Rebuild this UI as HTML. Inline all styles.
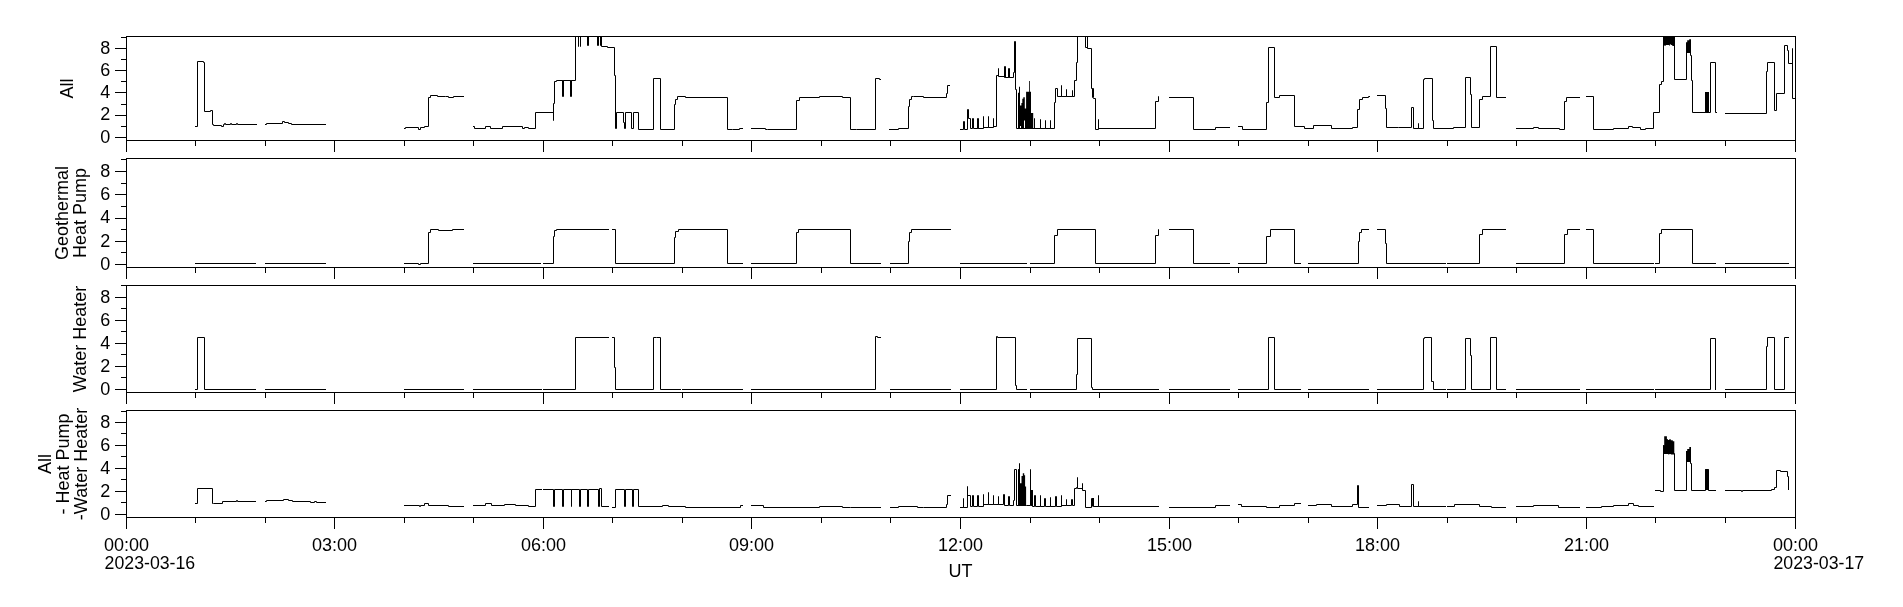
<!DOCTYPE html>
<html><head><meta charset="utf-8"><style>
html,body{margin:0;padding:0;background:#fff;width:1903px;height:607px;overflow:hidden}
svg{display:block;will-change:transform}
text{font-family:"Liberation Sans", sans-serif;font-size:18px;fill:#000}
</style></head><body>
<svg width="1903" height="607" viewBox="0 0 1903 607">
<rect width="1903" height="607" fill="#fff"/>
<path d="M126 36.5H1795.5V140.5H126.5V36M115 137.5H126.5M121 126.5H126.5M115 115.5H126.5M121 104.5H126.5M115 92.5H126.5M121 81.5H126.5M115 70.5H126.5M121 59.5H126.5M115 48.5H126.5M121 37.5H126.5M126.5 141V152M195.5 141V146M265.5 141V146M334.5 141V152M404.5 141V146M473.5 141V146M543.5 141V152M612.5 141V146M682.5 141V146M751.5 141V152M821.5 141V146M890.5 141V146M960.5 141V152M1030.5 141V146M1099.5 141V146M1169.5 141V152M1238.5 141V146M1308.5 141V146M1377.5 141V152M1447.5 141V146M1516.5 141V146M1586.5 141V152M1655.5 141V146M1725.5 141V146M1795.5 141V152M126 158.5H1795.5V267.5H126.5V158M115 264.5H126.5M121 252.5H126.5M115 241.5H126.5M121 229.5H126.5M115 218.5H126.5M121 206.5H126.5M115 194.5H126.5M121 183.5H126.5M115 171.5H126.5M121 159.5H126.5M126.5 268V279M195.5 268V273M265.5 268V273M334.5 268V279M404.5 268V273M473.5 268V273M543.5 268V279M612.5 268V273M682.5 268V273M751.5 268V279M821.5 268V273M890.5 268V273M960.5 268V279M1030.5 268V273M1099.5 268V273M1169.5 268V279M1238.5 268V273M1308.5 268V273M1377.5 268V279M1447.5 268V273M1516.5 268V273M1586.5 268V279M1655.5 268V273M1725.5 268V273M1795.5 268V279M126 285.5H1795.5V392.5H126.5V285M115 389.5H126.5M121 377.5H126.5M115 366.5H126.5M121 354.5H126.5M115 343.5H126.5M121 331.5H126.5M115 320.5H126.5M121 308.5H126.5M115 297.5H126.5M121 285.5H126.5M126.5 393V404M195.5 393V398M265.5 393V398M334.5 393V404M404.5 393V398M473.5 393V398M543.5 393V404M612.5 393V398M682.5 393V398M751.5 393V404M821.5 393V398M890.5 393V398M960.5 393V404M1030.5 393V398M1099.5 393V398M1169.5 393V404M1238.5 393V398M1308.5 393V398M1377.5 393V404M1447.5 393V398M1516.5 393V398M1586.5 393V404M1655.5 393V398M1725.5 393V398M1795.5 393V404M126 410.5H1795.5V517.5H126.5V410M115 514.5H126.5M121 502.5H126.5M115 491.5H126.5M121 479.5H126.5M115 468.5H126.5M121 456.5H126.5M115 445.5H126.5M121 433.5H126.5M115 422.5H126.5M121 411.5H126.5M126.5 518V529M195.5 518V523M265.5 518V523M334.5 518V529M404.5 518V523M473.5 518V523M543.5 518V529M612.5 518V523M682.5 518V523M751.5 518V529M821.5 518V523M890.5 518V523M960.5 518V529M1030.5 518V523M1099.5 518V523M1169.5 518V529M1238.5 518V523M1308.5 518V523M1377.5 518V529M1447.5 518V523M1516.5 518V523M1586.5 518V529M1655.5 518V523M1725.5 518V523M1795.5 518V529" fill="none" stroke="#000" stroke-width="1" shape-rendering="crispEdges"/>
<defs><clipPath id="c0"><rect x="127" y="37" width="1668" height="103"/></clipPath><clipPath id="c1"><rect x="127" y="159" width="1668" height="108"/></clipPath><clipPath id="c2"><rect x="127" y="286" width="1668" height="106"/></clipPath><clipPath id="c3"><rect x="127" y="411" width="1668" height="106"/></clipPath></defs>
<g clip-path="url(#c0)"><path d="M195.5 126.5H197.5V61.5H203.5V62.5H204.5V111.5H210.5V110.5H212.5V124.5H213.5V125.5H221.5V126.5H223.5V124.5H224.5V123.5H225.5V124.5H230.5V123.5H231.5V124.5H236.5V123.5H237.5V124.5H256.5M265.5 124.5H266.5V123.5H282.5V121.5H284.5V122.5H288.5V123.5H291.5V124.5H325.5M404.5 128.5H405.5V127.5H418.5V129.5H420.5V127.5H424.5V126.5H428.5V97.5H430.5V95.5H437.5V96.5H445.5V96.5H448.5V97.5H453.5V96.5H463.5M473.5 126.5H474.5V128.5H485.5V126.5H490.5V128.5H502.5V126.5H522.5V128.5H524.5V127.5H528.5V128.5H535.5V112.5H553.5V120.5H553.5V103.5H554.5V81.5H556.5V80.5H562.5V96.5H562.5V80.5H563.5V96.5H563.5V80.5H570.5V96.5H570.5V80.5H571.5V96.5H571.5V80.5H575.5V30.5H578.5V46.5H578.5V30.5H580.5V46.5H580.5V30.5H587.5V45.5H587.5V30.5H588.5V45.5H588.5V30.5H597.5V45.5H597.5V30.5H598.5V45.5H598.5V30.5H600.5V45.5H600.5V30.5H601.5V46.5H607.5V47.5H614.5V75.5H615.5V128.5H616.5V112.5H623.5V122.5H624.5V128.5H625.5V112.5H631.5V128.5H633.5V112.5H638.5V129.5H653.5V78.5H660.5V129.5H674.5V104.5H675.5V99.5H677.5V96.5H685.5V97.5H727.5V129.5H732.5V129.5H739.5V128.5H742.5M751.5 128.5H765.5V129.5H767.5V129.5H796.5V100.5H799.5V97.5H819.5V96.5H842.5V97.5H850.5V129.5H856.5V129.5H875.5V78.5H879.5V79.5H880.5M889.5 129.5H898.5V128.5H908.5V106.5H909.5V99.5H911.5V96.5H913.5V96.5H923.5V97.5H946.5V93.5H947.5V85.5H949.5M960.5 129.5H963.5V121.5H964.5V129.5H967.5V109.5H968.5V118.5H970.5V128.5H972.5V118.5H973.5V128.5H977.5V118.5H977.5V128.5H978.5V118.5H978.5V128.5H983.5V116.5H983.5V127.5H988.5V116.5H988.5V127.5H993.5V118.5H993.5V126.5H996.5V75.5H998.5V68.5H998.5V76.5H1004.5V66.5H1004.5V77.5H1005.5V66.5H1005.5V77.5H1008.5V68.5H1008.5V77.5H1009.5V68.5H1009.5V77.5H1013.5V72.5H1014.5V41.5H1015.5V89.5H1016.5V128.5H1035.5V128.5H1034.5V118.5H1034.5V128.5H1040.5V119.5H1040.5V128.5H1045.5V120.5H1045.5V128.5H1050.5V120.5H1050.5V128.5H1054.5V102.5H1055.5V88.5H1057.5V96.5H1061.5V85.5H1061.5V96.5H1066.5V89.5H1066.5V96.5H1072.5V90.5H1072.5V96.5H1074.5V80.5H1076.5V62.5H1077.5V30.5H1085.5V47.5H1087.5V30.5H1087.5V48.5H1091.5V88.5H1092.5V97.5H1092.5V88.5H1093.5V97.5H1093.5V98.5H1095.5V129.5H1098.5V119.5H1098.5V128.5H1155.5V101.5H1158.5V96.5H1158.5M1169.5 97.5H1193.5V129.5H1215.5V127.5H1229.5M1238.5 126.5H1242.5V129.5H1266.5V102.5H1268.5V47.5H1274.5V97.5H1279.5V95.5H1294.5V126.5H1304.5V128.5H1313.5V125.5H1331.5V128.5H1352.5V127.5H1357.5V109.5H1359.5V99.5H1362.5V97.5H1368.5V96.5H1369.5M1377.5 95.5H1385.5V108.5H1386.5V127.5H1398.5V127.5H1411.5V107.5H1413.5V128.5H1418.5V123.5H1418.5V128.5H1423.5V79.5H1424.5V78.5H1432.5V120.5H1433.5V128.5H1453.5V127.5H1465.5V77.5H1470.5V94.5H1471.5V127.5H1479.5V99.5H1482.5V96.5H1490.5V46.5H1496.5V97.5H1505.5M1516.5 128.5H1533.5V127.5H1538.5V128.5H1559.5V129.5H1564.5V101.5H1566.5V97.5H1579.5M1586.5 96.5H1593.5V129.5H1613.5V128.5H1628.5V126.5H1632.5V127.5H1640.5V129.5H1645.5V128.5H1653.5V112.5H1659.5V84.5H1661.5V81.5H1663.5V30.5H1674.5V79.5H1686.5V52.5H1690.5V55.5H1691.5V80.5H1692.5V112.5H1705.5V92.5H1705.5V112.5H1708.5V92.5H1708.5V112.5H1710.5V62.5H1715.5V112.5H1716.5M1725.5 113.5H1766.5V71.5H1767.5V62.5H1774.5V110.5H1776.5V93.5H1784.5V45.5H1787.5V50.5H1788.5V63.5H1792.5V48.5H1792.5V98.5H1795.5" fill="none" stroke="#000" stroke-width="1" stroke-linecap="square"/><g fill="#000"><polygon points="1018,128.8 1018,92.8 1019,92.8 1019,86.8 1020,86.8 1020,105.6 1021.4,105.6 1021.4,103.1 1022.3,103.1 1022.3,98.7 1023.3,98.7 1023.3,97.2 1024.8,97.2 1024.8,108.6 1026.1,108.6 1026.1,91.8 1029.2,91.8 1029.2,80.9 1030,80.9 1030,91.8 1031,91.8 1031,113 1033.2,113 1033.2,128.8"/><polygon points="1663,36 1674.3,36 1674.3,46 1672.3,46 1672.3,45.1 1670.8,45.1 1670.8,44.2 1669.9,44.2 1669.9,46 1669.4,46 1669.4,45.1 1665.6,45.1 1665.6,46 1664.8,46 1664.8,45.4 1663,45.4"/><polygon points="1686,52.9 1686,42.2 1687.2,42.2 1687.2,40.2 1689.2,40.2 1689.2,39.2 1691,39.2 1691,52.9"/><polygon points="1705,92 1709,92 1709,112.5 1705,112.5"/></g><g fill="#fff"><polygon points="1024,120.5 1025,120.5 1025,128 1024,128"/><polygon points="1020,126 1021,126 1021,128 1020,128"/></g></g><g clip-path="url(#c1)"><path d="M195.5 263.5H255.5M265.5 263.5H325.5M404.5 263.5H418.5V264.5H420.5V263.5H428.5V232.5H430.5V229.5H438.5V230.5H452.5V229.5H463.5M473.5 263.5H540.5M543.5 263.5H553.5V236.5H554.5V230.5H556.5V229.5H608.5M612.5 229.5H615.5V263.5H674.5V237.5H675.5V231.5H678.5V229.5H727.5V263.5H742.5M751.5 263.5H796.5V232.5H798.5V229.5H850.5V263.5H880.5M890.5 263.5H908.5V241.5H909.5V232.5H911.5V229.5H950.5M960.5 263.5H1026.5M1030.5 263.5H1054.5V235.5H1057.5V229.5H1095.5V263.5H1155.5V235.5H1158.5V229.5H1158.5M1169.5 229.5H1193.5V263.5H1229.5M1238.5 263.5H1266.5V236.5H1270.5V229.5H1294.5V263.5H1300.5M1308.5 263.5H1358.5V241.5H1359.5V232.5H1361.5V229.5H1368.5M1377.5 229.5H1385.5V243.5H1386.5V263.5H1445.5M1447.5 263.5H1479.5V234.5H1482.5V229.5H1505.5M1516.5 263.5H1564.5V234.5H1567.5V229.5H1579.5M1586.5 229.5H1593.5V263.5H1653.5M1655.5 263.5H1659.5V233.5H1661.5V229.5H1692.5V263.5H1715.5M1725.5 263.5H1788.5" fill="none" stroke="#000" stroke-width="1" stroke-linecap="square"/><g fill="#000"></g><g fill="#fff"></g></g><g clip-path="url(#c2)"><path d="M195.5 389.5H197.5V337.5H204.5V389.5H255.5M265.5 389.5H325.5M404.5 389.5H463.5M473.5 389.5H541.5M543.5 389.5H575.5V337.5H608.5M612.5 337.5H614.5V367.5H615.5V389.5H653.5V337.5H656.5V337.5H660.5V389.5H680.5M682.5 389.5H742.5M751.5 389.5H875.5V336.5H877.5V337.5H880.5M890.5 389.5H950.5M960.5 389.5H996.5V336.5H997.5V337.5H1015.5V385.5H1016.5V389.5H1026.5M1030.5 389.5H1076.5V374.5H1077.5V338.5H1091.5V387.5H1092.5V389.5H1158.5M1169.5 389.5H1229.5M1238.5 389.5H1268.5V337.5H1274.5V389.5H1300.5M1308.5 389.5H1368.5M1377.5 389.5H1423.5V338.5H1424.5V337.5H1431.5V381.5H1433.5V389.5H1445.5M1447.5 389.5H1465.5V338.5H1470.5V355.5H1471.5V389.5H1490.5V337.5H1496.5V389.5H1505.5M1516.5 389.5H1579.5M1586.5 389.5H1653.5M1655.5 389.5H1710.5V338.5H1715.5V389.5M1725.5 389.5H1766.5V346.5H1767.5V337.5H1774.5V389.5H1784.5V337.5H1788.5" fill="none" stroke="#000" stroke-width="1" stroke-linecap="square"/><g fill="#000"></g><g fill="#fff"></g></g><g clip-path="url(#c3)"><path d="M195.5 503.5H197.5V488.5H212.5V503.5H213.5V503.5H222.5V501.5H236.5V500.5H237.5V501.5H255.5M265.5 501.5H266.5V500.5H283.5V499.5H288.5V500.5H292.5V501.5H310.5V502.5H314.5V501.5H316.5V502.5H325.5M404.5 505.5H419.5V506.5H420.5V505.5H424.5V503.5H428.5V505.5H448.5V506.5H463.5M473.5 505.5H485.5V503.5H491.5V505.5H504.5V504.5H515.5V505.5H528.5V506.5H535.5V489.5H541.5M543.5 489.5H553.5V506.5H554.5V489.5H562.5V506.5H563.5V489.5H571.5V506.5H571.5V489.5H579.5V506.5H580.5V489.5H587.5V506.5H588.5V489.5H598.5V506.5H599.5V488.5H601.5V506.5H608.5M612.5 507.5H615.5V489.5H624.5V506.5H625.5V489.5H632.5V506.5H633.5V489.5H638.5V506.5H662.5V505.5H668.5V506.5H681.5M682.5 506.5H685.5V507.5H740.5V505.5H742.5M751.5 505.5H763.5V507.5H819.5V506.5H842.5V507.5H850.5V507.5H880.5M890.5 507.5H898.5V506.5H917.5V507.5H923.5V507.5H946.5V504.5H947.5V495.5H950.5M960.5 507.5H963.5V498.5H963.5V507.5H967.5V486.5H967.5V495.5H970.5V506.5H972.5V495.5H973.5V506.5H977.5V495.5H978.5V506.5H983.5V494.5H983.5V504.5H988.5V492.5H988.5V504.5H993.5V495.5H993.5V504.5H998.5V496.5H998.5V504.5H1003.5V494.5H1004.5V505.5H1008.5V496.5H1009.5V505.5H1013.5V500.5H1014.5V469.5H1016.5V505.5H1018.5V469.5H1018.5V505.5H1026.5V505.5H1030.5V469.5H1030.5V490.5H1032.5V506.5H1034.5V495.5H1035.5V506.5H1040.5V495.5H1040.5V506.5H1044.5V498.5H1045.5V506.5H1050.5V497.5H1050.5V506.5H1055.5V496.5H1056.5V506.5H1061.5V495.5H1061.5V505.5H1066.5V499.5H1066.5V505.5H1071.5V499.5H1072.5V505.5H1074.5V488.5H1076.5V487.5H1077.5V477.5H1077.5V488.5H1082.5V483.5H1082.5V490.5H1085.5V507.5H1091.5V498.5H1093.5V506.5H1098.5V495.5H1098.5V506.5H1158.5M1169.5 507.5H1215.5V505.5H1229.5M1238.5 504.5H1241.5V506.5H1266.5V507.5H1279.5V505.5H1294.5V503.5H1300.5M1308.5 505.5H1316.5V504.5H1331.5V506.5H1352.5V504.5H1357.5V485.5H1358.5V507.5H1368.5M1377.5 505.5H1386.5V504.5H1399.5V506.5H1411.5V484.5H1413.5V506.5H1418.5V501.5H1418.5V506.5H1445.5M1447.5 506.5H1454.5V504.5H1479.5V506.5H1491.5V507.5H1505.5M1516.5 506.5H1533.5V505.5H1558.5V507.5H1579.5M1586.5 507.5H1601.5V506.5H1613.5V505.5H1628.5V503.5H1633.5V505.5H1638.5V506.5H1653.5M1655.5 490.5H1660.5V491.5H1663.5V445.5H1663.5V453.5H1674.5V453.5H1674.5V490.5H1686.5V451.5H1690.5V463.5H1691.5V490.5H1705.5V469.5H1708.5V490.5H1715.5M1725.5 490.5H1741.5V491.5H1742.5V490.5H1771.5V489.5H1774.5V487.5H1776.5V470.5H1780.5V471.5H1787.5V476.5H1788.5V489.5" fill="none" stroke="#000" stroke-width="1" stroke-linecap="square"/><g fill="#000"><polygon points="1018.3,505.9 1018.3,469.3 1019,469.3 1019,463.3 1020,463.3 1020,483.2 1021.5,483.2 1021.5,476.1 1022.8,476.1 1022.8,473.3 1024.2,473.3 1024.2,475.2 1025.1,475.2 1025.1,486.5 1026.1,486.5 1026.1,505.9"/><polygon points="1663,453 1663,445.2 1664.2,445.2 1664.2,436.3 1666.9,436.3 1666.9,438.9 1667.8,438.9 1667.8,439.9 1669.2,439.9 1669.2,439.2 1670.8,439.2 1670.8,440.2 1672.8,440.2 1672.8,441.2 1674.3,441.2 1674.3,454.4 1670.8,454.4 1670.8,453 1669.2,453 1669.2,454.7 1668.5,454.7 1668.5,453.7 1665,453.7 1665,453"/><polygon points="1686,462 1686,451.1 1687.2,451.1 1687.2,449.1 1689.3,449.1 1689.3,447.1 1691,447.1 1691,462"/><polygon points="1705.1,490 1705.1,469.2 1708.6,469.2 1708.6,490"/><polygon points="1030.5,490 1032.9,490 1032.9,506 1030.5,506"/><polygon points="1092,498 1094,498 1094,506.5 1092,506.5"/></g><g fill="#fff"></g></g>
<text x="110.3" y="142.75" text-anchor="end">0</text>
<text x="110.3" y="120.49" text-anchor="end">2</text>
<text x="110.3" y="98.22" text-anchor="end">4</text>
<text x="110.3" y="75.96" text-anchor="end">6</text>
<text x="110.3" y="53.70" text-anchor="end">8</text>
<text transform="translate(73.0,88.50) rotate(-90)" text-anchor="middle">All</text>
<text x="110.3" y="269.80" text-anchor="end">0</text>
<text x="110.3" y="246.55" text-anchor="end">2</text>
<text x="110.3" y="223.30" text-anchor="end">4</text>
<text x="110.3" y="200.05" text-anchor="end">6</text>
<text x="110.3" y="176.80" text-anchor="end">8</text>
<text transform="translate(67.9,213.00) rotate(-90)" text-anchor="middle">Geothermal</text>
<text transform="translate(85.9,213.00) rotate(-90)" text-anchor="middle">Heat Pump</text>
<text x="110.3" y="394.80" text-anchor="end">0</text>
<text x="110.3" y="371.78" text-anchor="end">2</text>
<text x="110.3" y="348.75" text-anchor="end">4</text>
<text x="110.3" y="325.72" text-anchor="end">6</text>
<text x="110.3" y="302.70" text-anchor="end">8</text>
<text transform="translate(86.3,339.00) rotate(-90)" text-anchor="middle">Water Heater</text>
<text x="110.3" y="519.70" text-anchor="end">0</text>
<text x="110.3" y="496.72" text-anchor="end">2</text>
<text x="110.3" y="473.75" text-anchor="end">4</text>
<text x="110.3" y="450.78" text-anchor="end">6</text>
<text x="110.3" y="427.80" text-anchor="end">8</text>
<text transform="translate(50.6,464.00) rotate(-90)" text-anchor="middle">All</text>
<text transform="translate(68.6,464.00) rotate(-90)" text-anchor="middle">- Heat Pump</text>
<text transform="translate(86.6,464.00) rotate(-90)" text-anchor="middle">-Water Heater</text>
<text x="126.5" y="550.8" text-anchor="middle">00:00</text>
<text x="334.5" y="550.8" text-anchor="middle">03:00</text>
<text x="543.5" y="550.8" text-anchor="middle">06:00</text>
<text x="751.5" y="550.8" text-anchor="middle">09:00</text>
<text x="960.5" y="550.8" text-anchor="middle">12:00</text>
<text x="1169.5" y="550.8" text-anchor="middle">15:00</text>
<text x="1377.5" y="550.8" text-anchor="middle">18:00</text>
<text x="1586.5" y="550.8" text-anchor="middle">21:00</text>
<text x="1795.5" y="550.8" text-anchor="middle">00:00</text>
<text x="104.6" y="568.8" textLength="90.6" lengthAdjust="spacingAndGlyphs">2023-03-16</text>
<text x="1773.5" y="568.8" textLength="90.6" lengthAdjust="spacingAndGlyphs">2023-03-17</text>
<text x="960.5" y="576.7" text-anchor="middle">UT</text>
</svg>
</body></html>
